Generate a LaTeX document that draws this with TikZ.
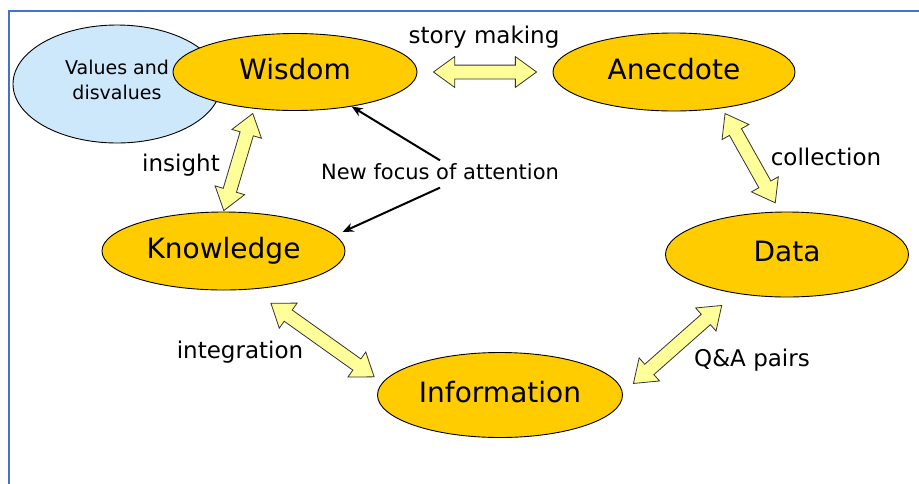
\documentclass[tikz,border=0pt]{standalone}
\usepackage{fontspec}
\setmainfont{DejaVu Sans}
\usetikzlibrary{shapes.geometric,shapes.arrows,calc,arrows.meta}

\definecolor{goldfill}{RGB}{255,204,0}
\definecolor{valuefill}{RGB}{205,232,250}
\definecolor{linkfill}{RGB}{255,255,153}
\definecolor{framecol}{RGB}{68,114,196}

\tikzset{
  stage/.style={ellipse, draw=black, line width=0.9pt, fill=goldfill, inner sep=0pt,
    text height=21pt, text depth=6.5pt, font=\fontsize{28}{30}\selectfont},
  dblarrow/.style={double arrow, draw=black!80, line width=0.8pt, fill=linkfill,
    inner sep=0pt, text height=6.5pt, text depth=6.5pt, double arrow head extend=8.5pt,
    double arrow tip angle=72},
  linklabel/.style={font=\fontsize{23}{26}\selectfont},
  focusarrow/.style={-{Stealth[length=11pt,width=9pt]}, line width=2pt}
}

% block double arrow from anchor #1 to anchor #2, gaps #3 and #4 at the ends
\newcommand{\blockarrow}[4]{%
  \path let \p1=($(#1)!#3!(#2)$), \p2=($(#2)!#4!(#1)$),
    \n1={atan2(\y2-\y1,\x2-\x1)}, \n2={veclen(\x2-\x1,\y2-\y1)} in
    node[dblarrow, rotate=\n1, minimum height=\n2] at ($(\p1)!0.5!(\p2)$) {};}

\begin{document}
\begin{tikzpicture}[x=1pt,y=-1pt]
  \useasboundingbox (0,0) rectangle (919,483);

  % Frame
  \draw[framecol, line width=2pt] (925,11) -- (9,11) -- (9,490);

  % Values behind wisdom
  \node[ellipse, draw=black, line width=0.9pt, fill=valuefill, inner sep=0pt,
    minimum width=208pt, minimum height=118pt,
    label={[align=center, yshift=4pt, font=\fontsize{19}{25}\selectfont]center:Values and\\disvalues}]
    (val) at (117,84) {};

  % The stages
  \node[stage, minimum width=244pt, minimum height=77pt] (wis) at (295,72) {Wisdom};
  \node[stage, minimum width=242pt, minimum height=78pt] (ane) at (674,72) {Anecdote};
  \node[stage, minimum width=243pt, minimum height=78pt] (kno) at (223.5,251) {Knowledge};
  \node[stage, minimum width=243pt, minimum height=85pt] (dat) at (787,254.5) {Data};
  \node[stage, minimum width=245pt, minimum height=85pt] (inf) at (500,395) {Information};

  % Links between stages
  \blockarrow{wis.east}{ane.west}{16pt}{16pt}
  \blockarrow{wis.222}{kno.north}{5pt}{1pt}
  \blockarrow{ane.-37}{dat.99}{6pt}{10pt}
  \blockarrow{kno.-54}{inf.174}{24pt}{10pt}
  \blockarrow{dat.217}{inf.1}{18pt}{14pt}

  % Labels
  \node[linklabel] (story) at (484,37) {story making};
  \node[linklabel] (insight) at (181,165) {insight};
  \node[linklabel] (collect) at (826,157) {collection};
  \node[linklabel] (integr) at (240,352) {integration};
  \node[linklabel] (qa) at (752,360) {Q\&A pairs};
  \node[font=\fontsize{21}{24}\selectfont] (focus) at (440,172) {New focus of attention};

  % Focus of attention
  \draw[focusarrow] (focus.north) -- (wis);
  \draw[focusarrow, shorten >=8pt] ([yshift=-4pt]focus.south) -- (kno.8);

\end{tikzpicture}
\end{document}
